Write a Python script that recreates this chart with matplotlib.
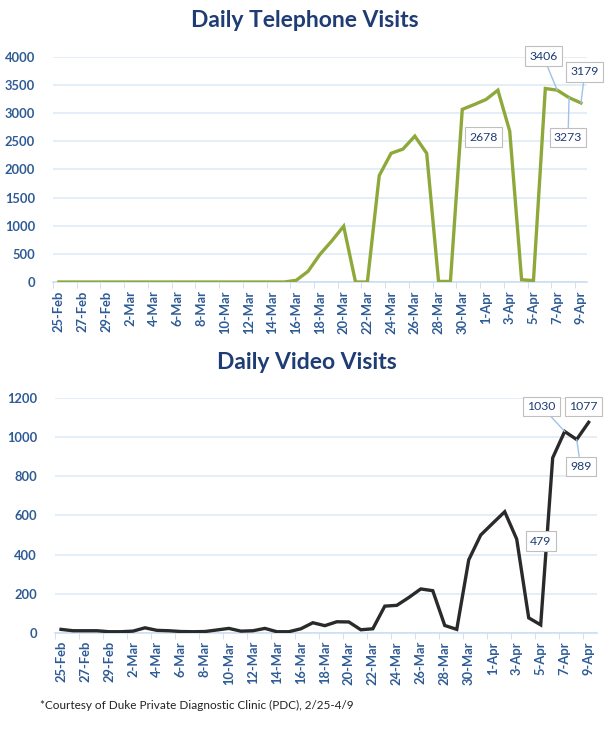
import numpy as np
import matplotlib
matplotlib.use("Agg")
import matplotlib.pyplot as plt

plt.rcParams["font.family"] = ["Lato", "DejaVu Sans"]

# === DATA (25-Feb .. 9-Apr, one value per day) ===
phone_visits = [0, 0, 0, 0, 0, 0, 0, 0, 0, 0,
                0, 0, 0, 0, 0, 0, 0, 0, 0, 0,
                30, 190, 490, 730, 990, 0, 0, 1890, 2285, 2360,
                2590, 2285, 10, 10, 3065, 3150, 3240, 3405, 2678, 40,
                25, 3435, 3406, 3273, 3179]

video_visits = [17, 10, 10, 10, 5, 5, 8, 25, 12, 10,
                6, 5, 6, 14, 22, 8, 10, 22, 5, 5,
                20, 51, 36, 56, 55, 15, 20, 136, 140, 180,
                224, 215, 37, 17, 373, 500, 560, 619, 479, 76,
                40, 895, 1030, 989, 1077]

tick_labels = ["25-Feb", "27-Feb", "29-Feb", "2-Mar", "4-Mar", "6-Mar", "8-Mar",
               "10-Mar", "12-Mar", "14-Mar", "16-Mar", "18-Mar", "20-Mar", "22-Mar",
               "24-Mar", "26-Mar", "28-Mar", "30-Mar", "1-Apr", "3-Apr", "5-Apr",
               "7-Apr", "9-Apr"]

# labelled points: (day index, pixel offset of box, leader line?)
phone_notes = [(42, (-14, 34), True), (44, (4, 31), True),
               (43, (-1, -40), True), (38, (-26, -6), False)]
video_notes = [(42, (-23, 25), True), (44, (-5, 16), False),
               (43, (4, -27), True), (38, (24, -2), False)]

NAVY = "#1F3C74"
TICK_BLUE = "#2E5B95"
GRID = "#DCE9F8"
LEADER = "#9DC3E6"

fig = plt.figure(figsize=(6.08, 7.40), dpi=100)
ax1 = fig.add_axes([0.0872, 0.6189, 0.878, 0.3045])
ax2 = fig.add_axes([0.0905, 0.1450, 0.8915, 0.3168])


def style_axis(ax, values, ymax, ystep, color, notes, xmax):
    x = np.arange(len(values))
    ax.plot(x, values, color=color, lw=2.4, solid_joinstyle="miter", zorder=3)
    ax.set_xlim(-0.5, xmax)
    ax.set_ylim(0, ymax)
    ax.set_yticks(np.arange(0, ymax + 1, ystep))
    ax.yaxis.grid(True, color=GRID, lw=1.1)
    ax.set_axisbelow(True)
    for s in ["top", "right", "left"]:
        ax.spines[s].set_visible(False)
    ax.spines["bottom"].set_color("#C9DCF2")
    ax.spines["bottom"].set_linewidth(1.1)
    ax.set_xticks(np.arange(0, len(values), 2))
    ax.set_xticklabels(tick_labels, rotation=90)
    ax.set_xticks(np.arange(0, len(values), 2) - 0.5, minor=True)
    ax.tick_params(axis="x", which="major", length=0, pad=6)
    ax.tick_params(axis="x", which="minor", length=4, color="#C9DCF2")
    ax.tick_params(axis="y", length=0, pad=13)
    for lab in ax.get_xticklabels() + ax.get_yticklabels():
        lab.set_color(TICK_BLUE)
        lab.set_fontsize(9.3)
        lab.set_fontweight("bold")
    for idx, off, leader in notes:
        arrow = dict(arrowstyle="-", color=LEADER, lw=1, shrinkA=0, shrinkB=0) if leader else None
        ax.annotate(str(values[idx]), xy=(idx, values[idx]), xytext=off,
                    textcoords="offset pixels", ha="center", va="center",
                    fontsize=8.8, color=NAVY, zorder=5, annotation_clip=False,
                    bbox=dict(boxstyle="square,pad=0.35", fc="white", ec="#BFBFBF", lw=0.8),
                    arrowprops=arrow)


style_axis(ax1, phone_visits, 4000, 500, "#8FA83A", phone_notes, 44.5)
style_axis(ax2, video_visits, 1200, 200, "#2A2A2A", video_notes, 44.7)

fig.text(0.5015, 0.972, "Daily Telephone Visits", ha="center", va="center",
         fontsize=16.5, fontweight="bold", color=NAVY)
fig.text(0.504, 0.510, "Daily Video Visits", ha="center", va="center",
         fontsize=16.5, fontweight="bold", color=NAVY)
fig.text(0.066, 0.047, "*Courtesy of Duke Private Diagnostic Clinic (PDC), 2/25-4/9",
         ha="left", va="center", fontsize=8.5, color="#222222")

fig.savefig("out.png", dpi=100)
